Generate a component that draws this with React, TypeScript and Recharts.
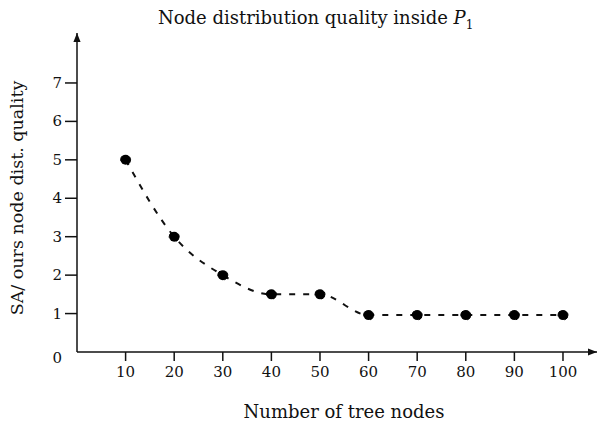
import React from 'react';
import { LineChart, Line, XAxis, YAxis, Label } from 'recharts';

const treeNodes = [10, 20, 30, 40, 50, 60, 70, 80, 90, 100];
const qualityRatio = [5, 3, 2, 1.5, 1.5, 0.96, 0.96, 0.96, 0.96, 0.96];
const xTicks = [10, 20, 30, 40, 50, 60, 70, 80, 90, 100];
const yTicks = [0, 1, 2, 3, 4, 5, 6, 7];

const data = treeNodes.map((n, i) => ({ nodes: n, ratio: qualityRatio[i] }));

const FONT = '"DejaVu Serif", "Liberation Serif", serif';
const W = 602;
const H = 423;
const AXIS_X = 77;

function YTick(props: any) {
  const { y, payload } = props;
  const v = payload.value;
  return (
    <g>
      {v !== 0 && <line x1={AXIS_X - 12} x2={AXIS_X} y1={y} y2={y} stroke="#111" strokeWidth={1.5} />}
      <text
        x={AXIS_X - 15}
        y={v === 0 ? y + 6 : y}
        textAnchor="end"
        dominantBaseline="central"
        fill="#111"
        fontSize={15}
        fontFamily={FONT}
      >
        {v}
      </text>
    </g>
  );
}

export default function App() {
  return (
    <div style={{ position: 'absolute', left: 0, top: 0, width: W, height: H, background: '#fff' }}>
      <div
        style={{
          position: 'absolute',
          left: 158,
          top: 9,
          fontFamily: FONT,
          fontSize: 18,
          lineHeight: '18px',
          color: '#111',
          whiteSpace: 'nowrap',
        }}
      >
        Node distribution quality inside <i>P</i>
        <sub style={{ fontSize: 12, lineHeight: 0 }}>1</sub>
      </div>
      <LineChart width={W} height={H} data={data} margin={{ top: 33, right: 5, left: 0, bottom: 0 }}>
        <defs>
          <marker
            id="arrow"
            viewBox="0 0 10 10"
            refX="10"
            refY="5"
            markerWidth="10"
            markerHeight="9"
            markerUnits="userSpaceOnUse"
            orient="auto-start-reverse"
          >
            <path d="M0,1 L10,5 L0,9 z" fill="#111" />
          </marker>
        </defs>
        <XAxis
          type="number"
          dataKey="nodes"
          domain={[0, 107]}
          ticks={xTicks}
          height={71}
          tickSize={9}
          tickMargin={5}
          axisLine={{ stroke: '#111', strokeWidth: 1.5, markerEnd: 'url(#arrow)' }}
          tickLine={{ stroke: '#111', strokeWidth: 1.5 }}
          tick={{ fill: '#111', fontSize: 15, fontFamily: FONT }}
        >
          <Label
            content={() => (
              <text x={344} y={418} textAnchor="middle" fill="#111" fontSize={18} fontFamily={FONT}>
                Number of tree nodes
              </text>
            )}
          />
        </XAxis>
        <YAxis
          type="number"
          domain={[0, 8.3]}
          ticks={yTicks}
          width={77}
          tickLine={false}
          axisLine={{ stroke: '#111', strokeWidth: 1.5, markerStart: 'url(#arrow)' }}
          tick={<YTick />}
        >
          <Label
            content={() => (
              <text
                x={17}
                y={198}
                transform="rotate(-90, 17, 198)"
                textAnchor="middle"
                dominantBaseline="central"
                fill="#111"
                fontSize={17.5}
                fontFamily={FONT}
              >
                SA/ ours node dist. quality
              </text>
            )}
          />
        </YAxis>
        <Line
          type="monotone"
          dataKey="ratio"
          stroke="#111"
          strokeWidth={2}
          strokeDasharray="6 8"
          dot={{ r: 5, fill: '#000', stroke: '#000', strokeWidth: 1 }}
          activeDot={false}
          isAnimationActive={false}
        />
      </LineChart>
    </div>
  );
}
